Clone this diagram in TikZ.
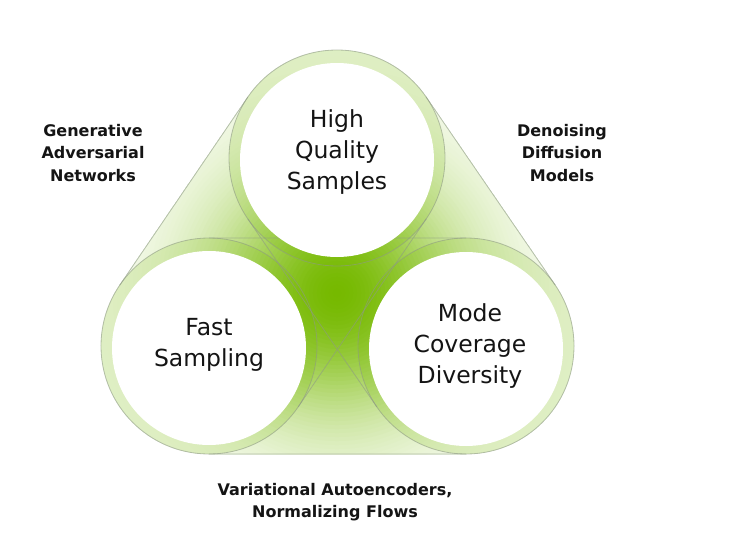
\documentclass[tikz,border=0pt]{standalone}
\usepackage{fontspec}
\setmainfont{DejaVu Sans}
\usetikzlibrary{calc}
\definecolor{nvgreen}{HTML}{76B900}
\definecolor{edgegrey}{HTML}{8E9A84}
\definecolor{ink}{HTML}{141414}
\begin{document}
\begin{tikzpicture}[x=1pt,y=1pt,
  outline/.style={draw=edgegrey, draw opacity=0.6, line width=0.8pt},
  ring/.style={fill=nvgreen, fill opacity=0.18},
  innerdisc/.style={fill=white},
  bigtext/.style={font=\fontsize{23.5}{31}\selectfont, text=ink, align=center, inner sep=0pt},
  modeltext/.style={font=\fontsize{16}{22.7}\selectfont\bfseries, text=ink, align=center, inner sep=0pt}]
\fill[white] (0,0) rectangle (735,536);
\useasboundingbox (0,0) rectangle (735,536);
% circle centres
\coordinate (T) at (337,378);
\coordinate (L) at (209,190);
\coordinate (R) at (466,190);
\coordinate (G) at (337,243);
% outer tangent points
\coordinate (tlo1) at ($(T)!108pt!-90:(L)$);
\coordinate (tlo2) at ($(L)!108pt!90:(T)$);
\coordinate (lro1) at ($(L)!108pt!-90:(R)$);
\coordinate (lro2) at ($(R)!108pt!90:(L)$);
\coordinate (rto1) at ($(R)!108pt!-90:(T)$);
\coordinate (rto2) at ($(T)!108pt!90:(R)$);
% inner tangent points
\coordinate (tli1) at ($(T)!108pt!90:(L)$);
\coordinate (tli2) at ($(L)!108pt!-90:(T)$);
\coordinate (lri1) at ($(L)!108pt!90:(R)$);
\coordinate (lri2) at ($(R)!108pt!-90:(L)$);
\coordinate (rti1) at ($(R)!108pt!90:(T)$);
\coordinate (rti2) at ($(T)!108pt!-90:(R)$);
% gradient hull (radial, built from concentric discs)
\begin{scope}
  \clip (tlo1) -- (tlo2) arc[start angle=145.75, end angle=270, radius=108]
        -- (lro2) arc[start angle=270, end angle=394.46, radius=108]
        -- (rto2) arc[start angle=34.46, end angle=145.75, radius=108] -- cycle;
  \foreach \i in {0,...,70}{
    \pgfmathsetmacro\dd{280-4*\i}
    \pgfmathsetmacro\pct{4+96*exp(-(\dd/126)^2)}
    \fill[nvgreen!\pct!white] (G) circle[radius=\dd+0.01];
  }
\end{scope}
% translucent rings
\foreach \c in {T,L,R}{\fill[ring] (\c) circle[radius=108];}
% capsule edges
\draw[outline] (tlo1) -- (tlo2) (tli1) -- (tli2)
               (lro1) -- (lro2) (lri1) -- (lri2)
               (rto1) -- (rto2) (rti1) -- (rti2);
\foreach \c in {T,L,R}{\draw[outline] (\c) circle[radius=108];}
% white discs
\fill[innerdisc] (337,376) circle[radius=97];
\fill[innerdisc] (209,188) circle[radius=97];
\fill[innerdisc] (466,187) circle[radius=97];
% texts
\node[bigtext] (hq) at (337,383.5) {High\\Quality\\Samples};
\node[bigtext] (fs) at (209,191) {Fast\\Sampling};
\node[bigtext] (mc) at (470,189.5) {Mode\\Coverage\\Diversity};
\node[modeltext] (gan) at (93,383) {Generative\\Adversarial\\Networks};
\node[modeltext] (ddm) at (562,383) {Denoising\\Diffusion\\Models};
\node[modeltext] (vae) at (335,34) {Variational Autoencoders,\\Normalizing Flows};
\end{tikzpicture}
\end{document}
